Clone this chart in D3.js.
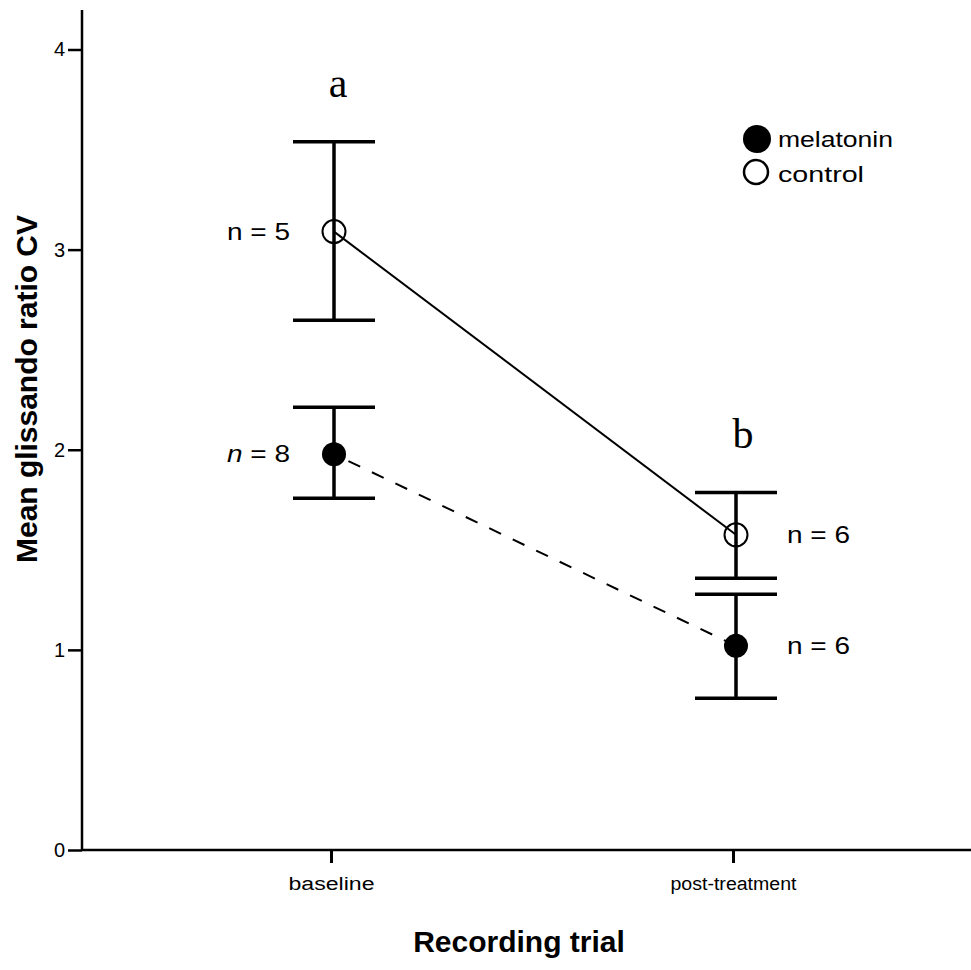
<!DOCTYPE html>
<html>
<head>
<meta charset="utf-8">
<script src="https://cdn.jsdelivr.net/npm/d3@7"></script>
<style>
  html, body { margin: 0; padding: 0; background: #fff; }
  svg { display: block; }
  text { fill: #000; }
</style>
</head>
<body>
<svg id="chart" width="971" height="970"></svg>
<script>
// Recording trials along the x axis
const trials = ["baseline", "post-treatment"];

// Group means of the glissando ratio CV with their error bar limits
const controlMean  = [3.09, 1.575];
const controlLow   = [2.647, 1.358];
const controlHigh  = [3.539, 1.786];
const melatoninMean = [1.978, 1.02];
const melatoninLow  = [1.758, 0.758];
const melatoninHigh = [2.212, 1.278];

// Sample sizes per group and trial
const controlN   = [5, 6];
const melatoninN = [8, 6];

// Significance letters above the control group
const sigLetters = ["a", "b"];

// Y axis ticks
const yTicks = [0, 1, 2, 3, 4];

const svg = d3.select("#chart");
const font = "Liberation Sans, Arial, Helvetica, sans-serif";

const axisLeftX = 82, axisRightX = 971, axisTopY = 10;
const y = d3.scaleLinear().domain([0, 4]).range([850, 49.5]);
const x = d3.scalePoint().domain(trials).range([334, 736]);

// --- axes ---
const yAxis = svg.append("g")
  .attr("transform", `translate(${axisLeftX},0)`)
  .call(d3.axisLeft(y).tickValues(yTicks).tickFormat(d3.format("d")).tickSize(14).tickPadding(3));
yAxis.select(".domain").remove();
yAxis.selectAll(".tick line").attr("stroke", "#000").attr("stroke-width", 2.5);
yAxis.selectAll(".tick text").attr("font-family", font).attr("font-size", 20).attr("fill", "#000");

svg.append("line")
  .attr("x1", axisLeftX).attr("x2", axisLeftX)
  .attr("y1", axisTopY).attr("y2", y(0))
  .attr("stroke", "#000").attr("stroke-width", 2.5);

const xAxis = svg.append("g")
  .attr("transform", `translate(0,${y(0)})`)
  .call(d3.axisBottom(x).tickSize(13).tickPadding(10));
xAxis.select(".domain").remove();
xAxis.selectAll(".tick line").attr("stroke", "#000").attr("stroke-width", 3)
  .attr("transform", "translate(-3,0)");
xAxis.selectAll(".tick text")
  .attr("font-family", font).attr("font-size", 18).attr("fill", "#000")
  .attr("dy", "0.95em")
  .attr("transform", "translate(-3,0)")
  .attr("textLength", d => d === "baseline" ? 86 : 126)
  .attr("lengthAdjust", "spacingAndGlyphs");

svg.append("line")
  .attr("x1", axisLeftX).attr("x2", axisRightX)
  .attr("y1", y(0)).attr("y2", y(0))
  .attr("stroke", "#000").attr("stroke-width", 2.5);

// --- axis titles ---
svg.append("text")
  .attr("transform", `translate(37,389) rotate(-90)`)
  .attr("text-anchor", "middle")
  .attr("font-family", font).attr("font-weight", "bold").attr("font-size", 29)
  .attr("textLength", 348).attr("lengthAdjust", "spacingAndGlyphs")
  .text("Mean glissando ratio CV");

svg.append("text")
  .attr("x", 519).attr("y", 952)
  .attr("text-anchor", "middle")
  .attr("font-family", font).attr("font-weight", "bold").attr("font-size", 30)
  .text("Recording trial");

// --- connecting lines ---
const lineGen = d3.line().x(d => x(d.t)).y(d => y(d.v));
const controlPts = trials.map((t, i) => ({ t, v: controlMean[i] }));
const melatoninPts = trials.map((t, i) => ({ t, v: melatoninMean[i] }));

svg.append("path").datum(controlPts)
  .attr("d", lineGen).attr("fill", "none")
  .attr("stroke", "#000").attr("stroke-width", 2);
svg.append("path").datum(melatoninPts)
  .attr("d", lineGen).attr("fill", "none")
  .attr("stroke", "#000").attr("stroke-width", 2)
  .attr("stroke-dasharray", "13,13").attr("stroke-dashoffset", -16);

// --- error bars ---
const capHalf = 41;
function errorBars(lows, highs) {
  const g = svg.append("g").attr("stroke", "#000");
  trials.forEach((t, i) => {
    const cx = x(t);
    g.append("line").attr("x1", cx).attr("x2", cx)
      .attr("y1", y(lows[i])).attr("y2", y(highs[i])).attr("stroke-width", 3.5);
    [lows[i], highs[i]].forEach(v => {
      g.append("line").attr("x1", cx - capHalf).attr("x2", cx + capHalf)
        .attr("y1", y(v)).attr("y2", y(v)).attr("stroke-width", 3.5);
    });
  });
}
errorBars(controlLow, controlHigh);
errorBars(melatoninLow, melatoninHigh);

// --- markers ---
svg.append("g").selectAll("circle").data(controlPts).join("circle")
  .attr("cx", d => x(d.t)).attr("cy", d => y(d.v)).attr("r", 11.5)
  .attr("fill", "none").attr("stroke", "#000").attr("stroke-width", 2);
svg.append("g").selectAll("circle").data(melatoninPts).join("circle")
  .attr("cx", d => x(d.t)).attr("cy", d => y(d.v)).attr("r", 12)
  .attr("fill", "#000");

// --- sample size labels ---
function nLabel(i, mean, n, italicN) {
  const left = i === 0;
  const t = svg.append("text")
    .attr("x", left ? x(trials[i]) - 44 : x(trials[i]) + 51)
    .attr("y", y(mean) + 8)
    .attr("text-anchor", left ? "end" : "start")
    .attr("font-family", font).attr("font-size", 23)
    .attr("textLength", 63).attr("lengthAdjust", "spacingAndGlyphs");
  t.append("tspan").attr("font-style", italicN ? "italic" : "normal").text("n");
  t.append("tspan").text(" = " + n);
}
nLabel(0, controlMean[0], controlN[0], false);
nLabel(0, melatoninMean[0], melatoninN[0], true);
nLabel(1, controlMean[1], controlN[1], false);
nLabel(1, melatoninMean[1], melatoninN[1], false);

// --- significance letters ---
svg.append("g").selectAll("text").data(trials).join("text")
  .attr("x", (d, i) => x(d) + (i === 0 ? 4 : 7))
  .attr("y", (d, i) => y(controlHigh[i]) - 45)
  .attr("text-anchor", "middle")
  .attr("font-family", "Liberation Serif, Times New Roman, serif").attr("font-size", 42)
  .text((d, i) => sigLetters[i]);

// --- legend ---
const legend = svg.append("g");
legend.append("circle").attr("cx", 757).attr("cy", 139).attr("r", 14).attr("fill", "#000");
legend.append("circle").attr("cx", 756).attr("cy", 172).attr("r", 12)
  .attr("fill", "none").attr("stroke", "#000").attr("stroke-width", 2.5);
legend.append("text").attr("x", 778).attr("y", 147)
  .attr("font-family", font).attr("font-size", 22)
  .attr("textLength", 115).attr("lengthAdjust", "spacingAndGlyphs").text("melatonin");
legend.append("text").attr("x", 778).attr("y", 182)
  .attr("font-family", font).attr("font-size", 22)
  .attr("textLength", 86).attr("lengthAdjust", "spacingAndGlyphs").text("control");
</script>
</body>
</html>
